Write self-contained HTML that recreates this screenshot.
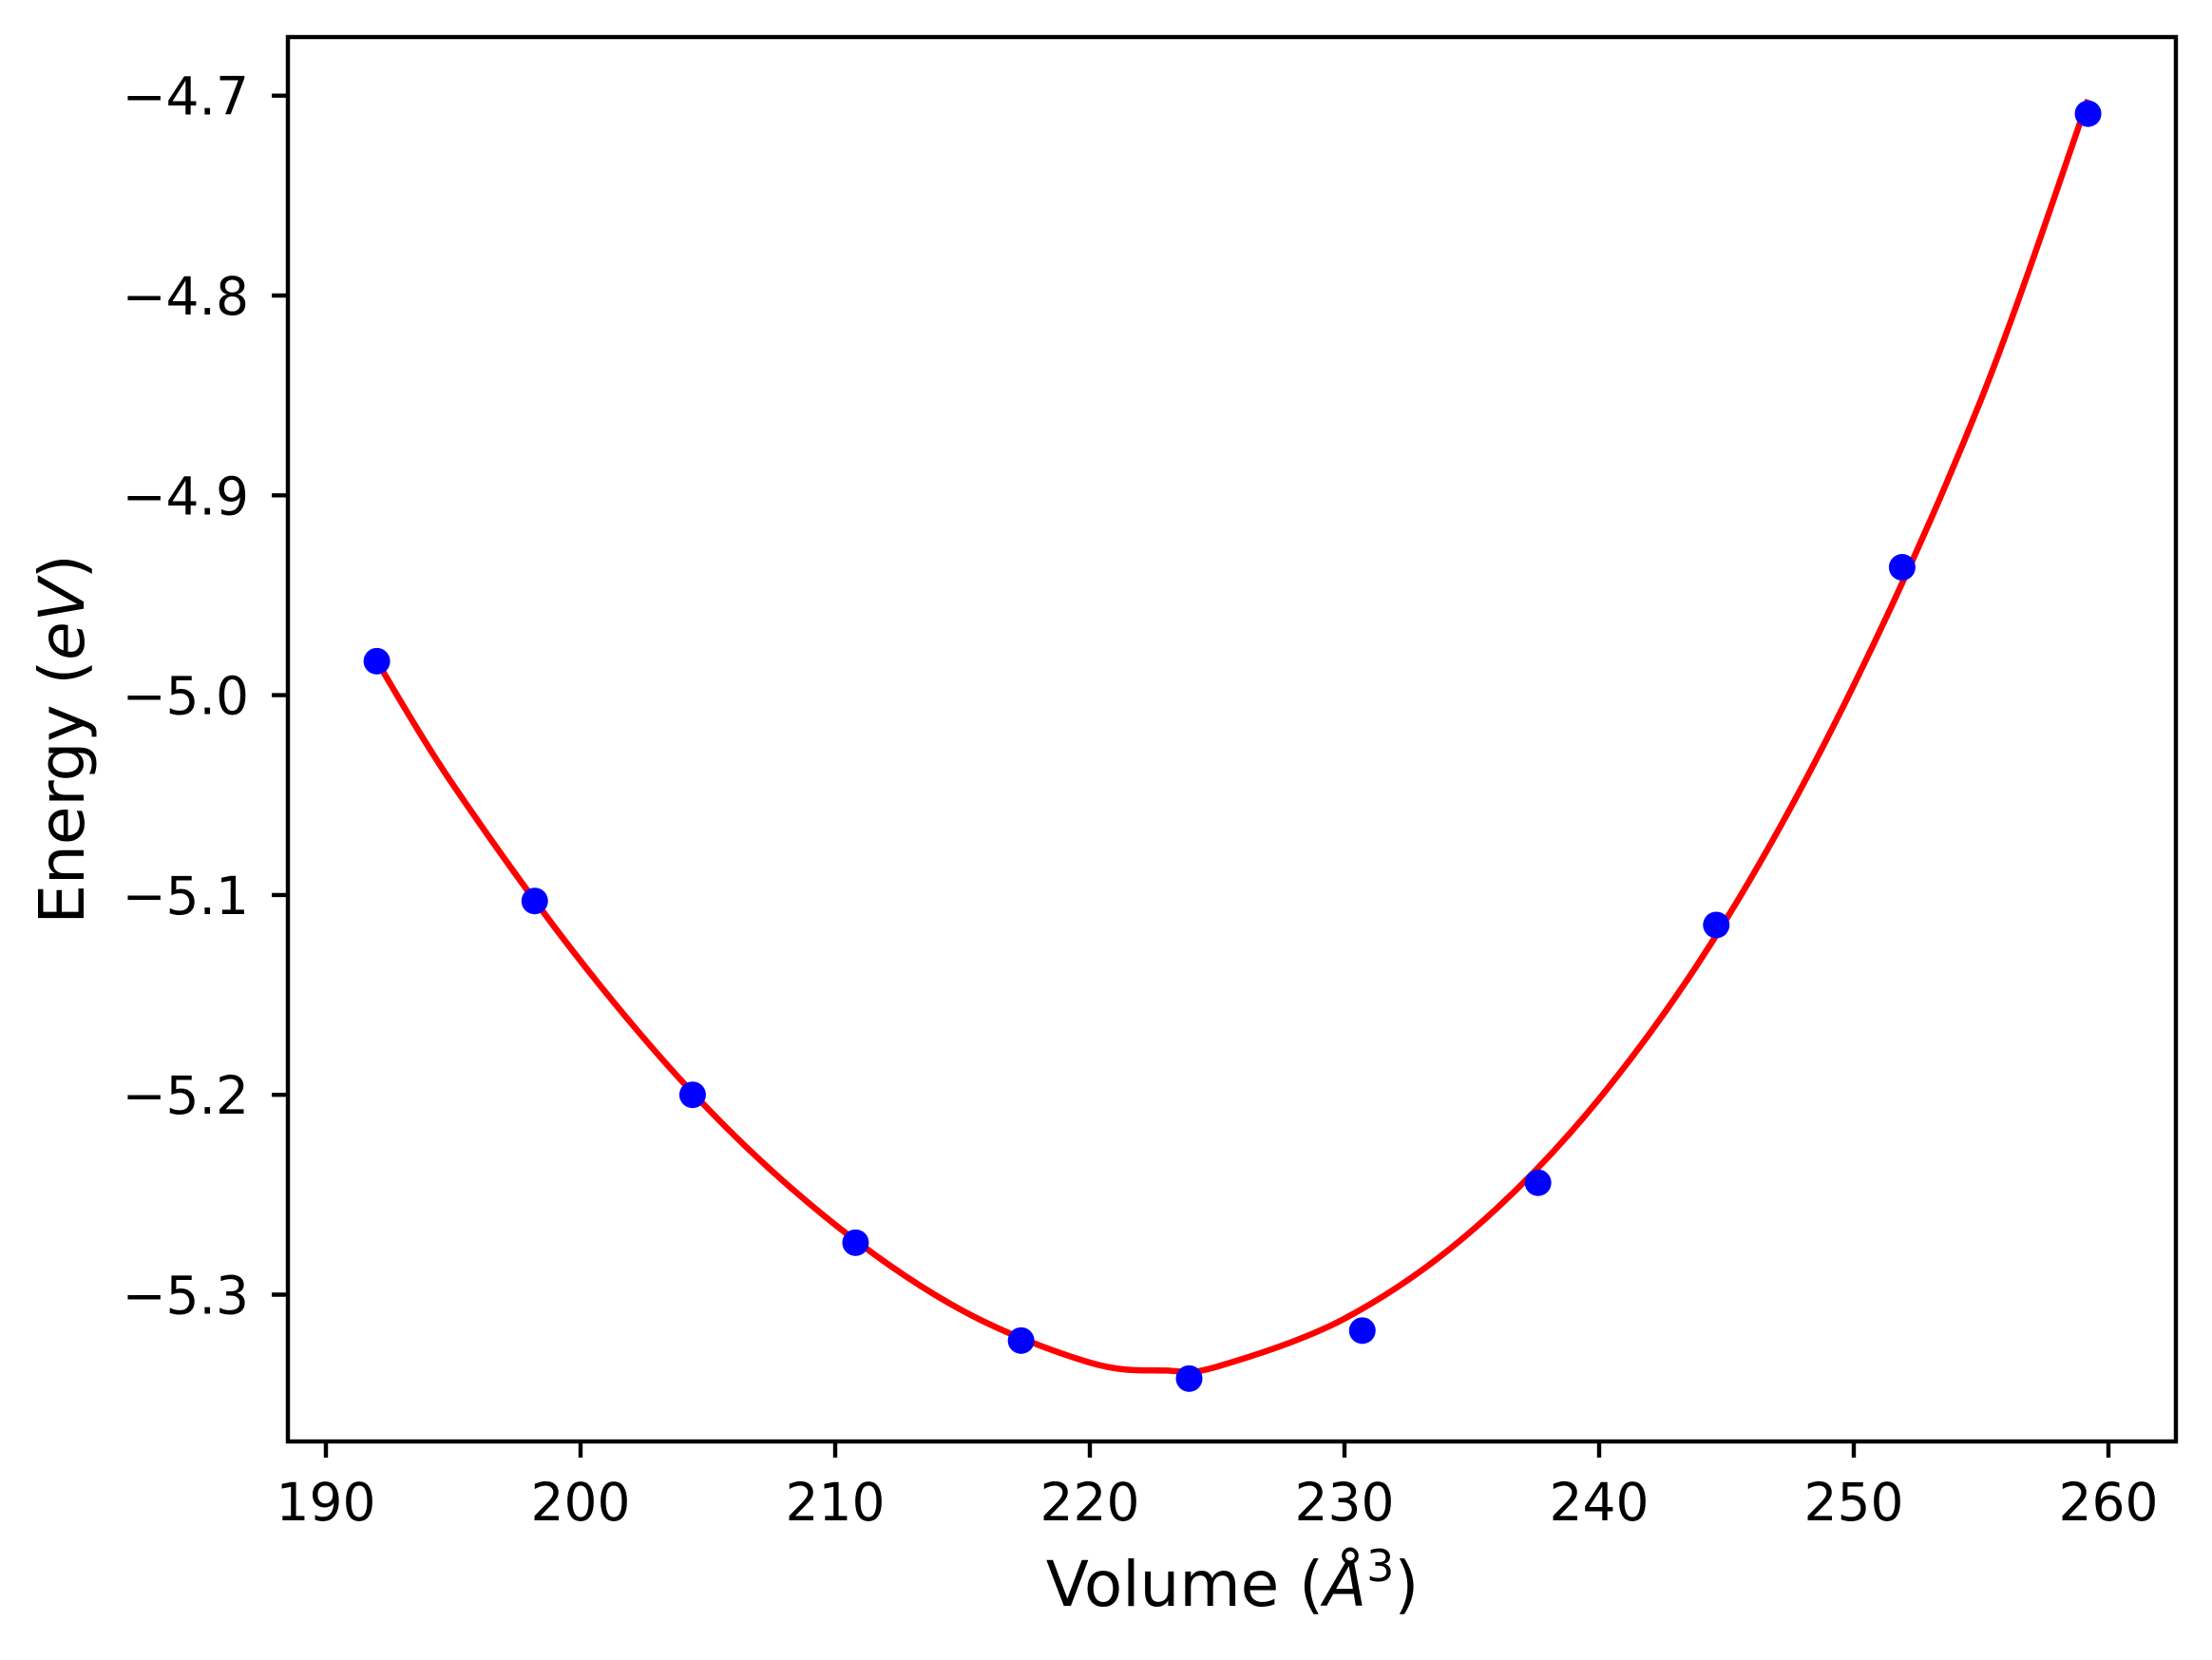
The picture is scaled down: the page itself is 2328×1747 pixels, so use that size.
<!DOCTYPE html>
<html><head><meta charset="utf-8"><style>
html,body{margin:0;padding:0;background:#fff;}
svg{display:block;font-family:"DejaVu Sans","Liberation Sans",sans-serif;}
</style></head><body>
<svg id="chart" width="2328" height="1747" viewBox="0 0 2328 1747" xmlns="http://www.w3.org/2000/svg">
<rect x="0" y="0" width="2328" height="1747" fill="#fff"/>
<g id="plot"></g>
<rect x="303" y="39" width="1987" height="1478" fill="none" stroke="#000" stroke-width="4.4"/>
<text x="1297" y="1690" font-size="66" text-anchor="middle">Volume (<tspan font-style="italic">Å</tspan><tspan font-size="46" dy="-26">3</tspan><tspan dy="26">)</tspan></text>
<text x="0" y="0" font-size="66" text-anchor="middle" transform="translate(88,778) rotate(-90)">Energy (<tspan font-style="italic">eV</tspan>)</text>
</svg>
<script>
const volumes = [192.0, 198.2, 204.4, 210.8, 217.3, 223.9, 230.7, 237.6, 244.6, 251.9, 259.2];
const energies = [-4.983, -5.103, -5.200, -5.274, -5.323, -5.342, -5.318, -5.244, -5.115, -4.936, -4.709];
const fitVolumes = [192, 195, 200, 205, 210, 215, 220, 223, 225, 230, 235, 240, 245, 250, 255, 259.2];
const fitEnergies = [-4.983, -5.045, -5.133, -5.207, -5.265, -5.308, -5.334, -5.338, -5.336, -5.312, -5.268, -5.202, -5.112, -4.995, -4.852, -4.702];
const xTicks = [190, 200, 210, 220, 230, 240, 250, 260];
const yTicks = [-4.7, -4.8, -4.9, -5.0, -5.1, -5.2, -5.3];
const yTickLabels = ["\u22124.7", "\u22124.8", "\u22124.9", "\u22125.0", "\u22125.1", "\u22125.2", "\u22125.3"];

const NS = "http://www.w3.org/2000/svg";
const X0 = 343, XU = 26.8;      // px for 190, px per unit
const Y0 = 100.7, YU = 2103;    // px for -4.7, px per eV
function sx(v){ return X0 + (v - 190) * XU; }
function sy(e){ return Y0 + (-4.7 - e) * YU; }
const g = document.getElementById('plot');
function mk(tag, attrs){ const el = document.createElementNS(NS, tag); for (const k in attrs) el.setAttribute(k, attrs[k]); return el; }

xTicks.forEach((t) => {
  const x = sx(t);
  const ln = mk('line', {x1:x, x2:x, y1:1517, y2:1534, stroke:'#000', 'stroke-width':4.4});
  
  
  g.appendChild(ln);
  const tx = mk('text', {x:x, y:1600, 'font-size':55, 'text-anchor':'middle'});
  
  
  tx.textContent = String(t);
  g.appendChild(tx);
});
yTicks.forEach((t, i) => {
  const y = sy(t);
  const ln = mk('line', {x1:286, x2:303, y1:y, y2:y, stroke:'#000', 'stroke-width':4.4});
  
  
  g.appendChild(ln);
  const tx = mk('text', {x:262, y:y + 20, 'font-size':55, 'text-anchor':'end'});
  
  
  tx.textContent = yTickLabels[i];
  g.appendChild(tx);
});

// fit curve (Catmull-Rom through read samples)
const pts = fitVolumes.map((v, i) => [sx(v), sy(fitEnergies[i])]);
let d = 'M' + pts[0][0] + ',' + pts[0][1];
for (let i = 0; i < pts.length - 1; i++) {
  const p0 = pts[Math.max(0, i - 1)], p1 = pts[i], p2 = pts[i + 1], p3 = pts[Math.min(pts.length - 1, i + 2)];
  const c1x = p1[0] + (p2[0] - p0[0]) / 6, c1y = p1[1] + (p2[1] - p0[1]) / 6;
  const c2x = p2[0] - (p3[0] - p1[0]) / 6, c2y = p2[1] - (p3[1] - p1[1]) / 6;
  d += ' C' + c1x + ',' + c1y + ' ' + c2x + ',' + c2y + ' ' + p2[0] + ',' + p2[1];
}
const curve = mk('path', {d:d, fill:'none', stroke:'#ff0000', 'stroke-width':6.5});


g.appendChild(curve);

volumes.forEach((v, i) => {
  const c = mk('circle', {cx:sx(v), cy:sy(energies[i]), r:14, fill:'#0000ff'});
  
  
  g.appendChild(c);
});
</script>
</body></html>
